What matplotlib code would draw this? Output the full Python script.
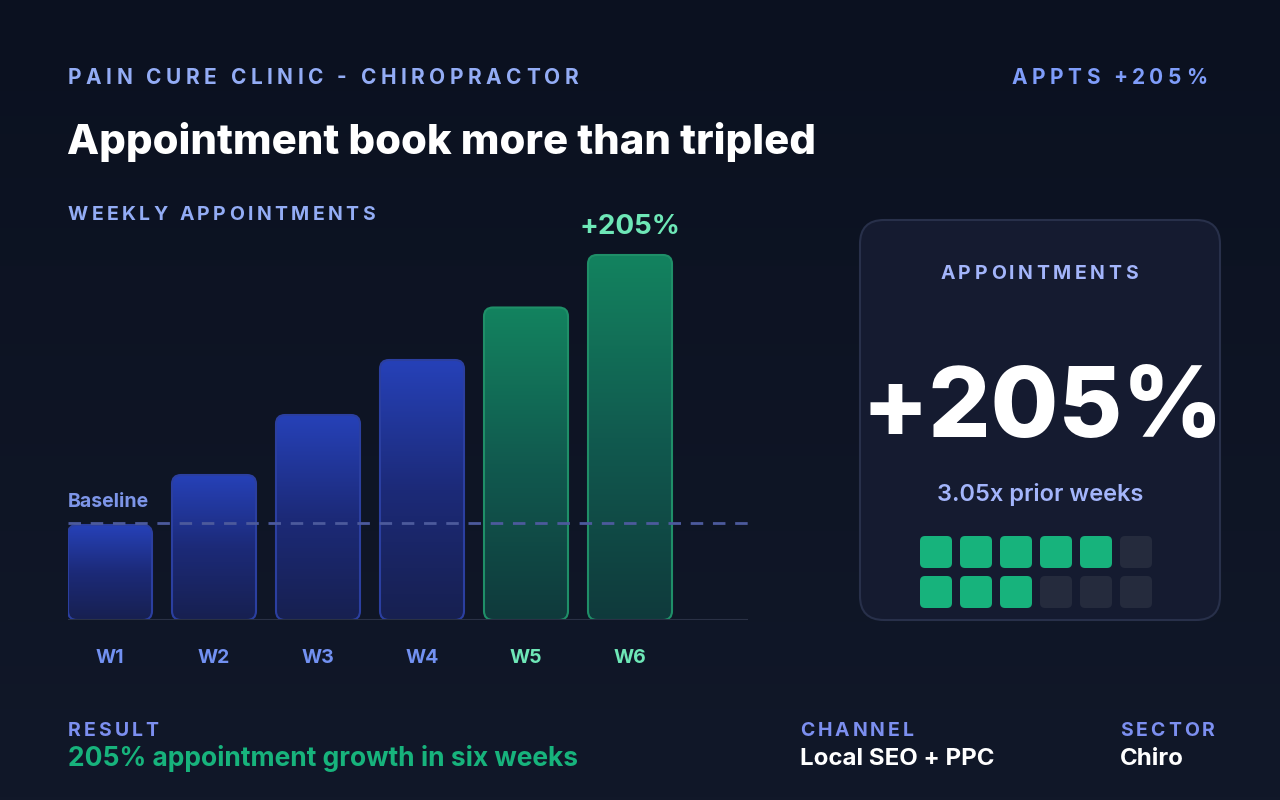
import numpy as np
import matplotlib
matplotlib.use('Agg')
import matplotlib.pyplot as plt
from matplotlib.patches import FancyBboxPatch
from matplotlib.colors import LinearSegmentedColormap

plt.rcParams['font.family'] = ['Inter', 'DejaVu Sans']

# data
weeks = ['W1', 'W2', 'W3', 'W4', 'W5', 'W6']
appts = [38, 58, 82, 104, 125, 146]
highlight = [False, False, False, False, True, True]
baseline = 39
growth_label = '+205%'
multiple_label = '3.05x prior weeks'
grid_filled = [1, 1, 1, 1, 1, 0,
               1, 1, 1, 0, 0, 0]

BLUE_TXT = '#93acf5'
BLUE_TICK = '#7291f2'
GREEN_TXT = '#6ee7b7'
GREEN = '#17b37c'

fig = plt.figure(figsize=(12.8, 8), dpi=100)

# full-figure layer in pixel coordinates
bg = fig.add_axes([0, 0, 1, 1])
bg.set_xlim(0, 1280)
bg.set_ylim(800, 0)
bg.axis('off')
grad = np.linspace(0, 1, 256).reshape(-1, 1)
bg_cmap = LinearSegmentedColormap.from_list('bg', ['#0b1120', '#111829'])
bg.imshow(grad, cmap=bg_cmap, extent=[0, 1280, 800, 0], aspect='auto', zorder=0)

renderer = fig.canvas.get_renderer()


def text_w(s, size, weight):
    t = bg.text(0, 0, s, fontsize=size, weight=weight)
    w = t.get_window_extent(renderer=renderer).width
    t.remove()
    return w


def spaced(x, y, s, size, color, spacing, ha='left', weight='bold'):
    ref = text_w('I', size, weight)
    pos = [text_w(s[:i] + 'I', size, weight) - ref + i * spacing for i in range(len(s))]
    total = text_w(s, size, weight) + spacing * (len(s) - 1)
    if ha == 'right':
        x = x - total
    elif ha == 'center':
        x = x - total / 2
    for ch, p in zip(s, pos):
        bg.text(x + p, y, ch, fontsize=size, weight=weight, color=color,
                va='center', ha='left', zorder=5)


# header
spaced(68, 77.5, 'PAIN CURE CLINIC - CHIROPRACTOR', 15, BLUE_TXT, 4.5)
spaced(1207, 77.5, 'APPTS ' + growth_label, 15, '#7f9dfa', 4.5, ha='right')
bg.text(67, 142, 'Appointment book more than tripled', fontsize=30.1, weight='heavy',
        color='white', va='center', ha='left')
spaced(68, 215, 'WEEKLY APPOINTMENTS', 14, BLUE_TXT, 3.4)

# footer
spaced(68, 731, 'RESULT', 14, '#7c8ff0', 3.0)
bg.text(68, 759, '205% appointment growth in six weeks', fontsize=19, weight='bold',
        color=GREEN, va='center')
spaced(800, 731, 'CHANNEL', 14, '#7c8ff0', 3.0)
bg.text(800, 759, 'Local SEO + PPC', fontsize=17.3, weight='bold', color='white', va='center')
spaced(1120, 731, 'SECTOR', 14, '#7c8ff0', 3.0)
bg.text(1120, 759, 'Chiro', fontsize=17.3, weight='bold', color='white', va='center')

# KPI card
card = FancyBboxPatch((860, 220), 360, 400, boxstyle='round,pad=0,rounding_size=24',
                      facecolor='#151b30', edgecolor='#28304a', linewidth=1.5, zorder=2)
bg.add_patch(card)
spaced(1039, 274, 'APPOINTMENTS', 14, '#a3b5fb', 3.6, ha='center')
bg.text(1042, 411, growth_label, fontsize=70.5, weight='heavy', color='white',
        ha='center', va='center', zorder=5)
bg.text(1040, 494, multiple_label, fontsize=17, weight='semibold', color='#a3b5fb',
        ha='center', va='center', zorder=5)
for i, f in enumerate(grid_filled):
    col, row = i % 6, i // 6
    sq = FancyBboxPatch((920 + col * 40, 536 + row * 40), 32, 32,
                        boxstyle='round,pad=0,rounding_size=5',
                        facecolor=GREEN if f else '#252b3d', edgecolor='none', zorder=3)
    bg.add_patch(sq)

# bar chart
ax = fig.add_axes([68 / 1280, 180 / 800, 680 / 1280, 380 / 800])
ax.set_facecolor('none')
step_px = 104
ax.set_xlim(-42 / step_px, -42 / step_px + 680 / step_px)
ax.set_ylim(0, 380 / 2.5)
for s in ax.spines.values():
    s.set_visible(False)
ax.tick_params(length=0)
ax.set_yticks([])
ax.set_xticks(range(len(weeks)))
ax.set_xticklabels(weeks, fontsize=14, weight='bold')
ax.tick_params(axis='x', pad=21)
for lbl, h in zip(ax.get_xticklabels(), highlight):
    lbl.set_color(GREEN_TXT if h else BLUE_TICK)

bar_w = 84 / step_px
aspect = (1 / 2.5) / (1 / step_px)
blue_cmap = LinearSegmentedColormap.from_list('b', ['#172050', '#1c2a78', '#2641b8'])
green_cmap = LinearSegmentedColormap.from_list('g', ['#0f3a3c', '#115a4f', '#13835f'])
for i, (v, h) in enumerate(zip(appts, highlight)):
    x0 = i - bar_w / 2
    patch = FancyBboxPatch((x0, 0), bar_w, v,
                           boxstyle='round,pad=0,rounding_size=%f' % (9 / step_px),
                           mutation_aspect=aspect, facecolor='none',
                           edgecolor='#1f8f68' if h else '#2b3fa0', linewidth=1.5, zorder=3)
    ax.add_patch(patch)
    im = ax.imshow(grad, cmap=green_cmap if h else blue_cmap, origin='lower',
                   extent=[x0, x0 + bar_w, 0, v], aspect='auto', zorder=2)
    im.set_clip_path(patch)

ax.axhline(0, color='#2a3145', linewidth=1.5, zorder=4)
ax.axhline(baseline, color='#4c5a9c', linewidth=2, linestyle=(0, (4.5, 3.5)), zorder=5)
ax.text(-42 / step_px, baseline + 4.5, 'Baseline', fontsize=14, weight='bold',
        color='#7d95e8', va='bottom', ha='left')
ax.text(len(appts) - 1, appts[-1] + 6, growth_label, fontsize=20, weight='bold',
        color=GREEN_TXT, ha='center', va='bottom')

fig.savefig('out.png', dpi=100, facecolor='#0b1120')
